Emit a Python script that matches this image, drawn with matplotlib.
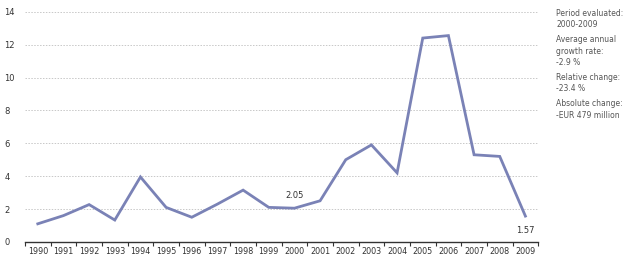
import matplotlib.pyplot as plt

years = [str(y) for y in range(1990, 2010)]
values = [1.1, 1.6, 2.27, 1.33, 3.95, 2.1, 1.5, 2.3, 3.15, 2.1,
          2.05, 2.5, 5.0, 5.9, 4.2, 12.4, 12.55, 5.3, 5.2, 1.57]
yticks = [0, 2, 4, 6, 8, 10, 12, 14]
notes = ["Period evaluated:", "2000-2009",
         "Average annual", "growth rate:", "-2.9 %",
         "Relative change:", "-23.4 %",
         "Absolute change:", "-EUR 479 million"]
note_gaps = [0, 0, 1, 0, 0, 1, 0, 1, 0]

line_color = "#7a82b6"
text_color = "#555555"

fig = plt.figure(figsize=(6.4, 2.67), dpi=100)
ax = fig.add_axes([0.039, 0.094, 0.802, 0.862])

x = list(range(len(years)))
ax.plot(x, values, color=line_color, linewidth=2.0, solid_joinstyle="miter")

ax.set_xlim(-0.5, len(years) - 0.5)
ax.set_ylim(0, 14)
ax.set_yticks(yticks)
ax.set_xticks(x)
ax.set_xticklabels(years, fontsize=5.8, color="#333333")
ax.set_xticks([i - 0.5 for i in range(len(years) + 1)], minor=True)
ax.tick_params(axis="x", which="major", length=0, pad=4)
ax.tick_params(axis="x", which="minor", length=3, width=0.8, color="#333333")
ax.tick_params(axis="y", length=0, labelsize=6, labelcolor="#333333", pad=15)
for lbl in ax.get_yticklabels():
    lbl.set_horizontalalignment("left")

ax.grid(axis="y", color="#c8c8c8", linestyle=(0, (1.5, 1.5)), linewidth=0.7)
ax.set_axisbelow(True)
for side in ["top", "right", "left"]:
    ax.spines[side].set_visible(False)
ax.spines["bottom"].set_color("#333333")
ax.spines["bottom"].set_linewidth(1.0)

ax.annotate("2.05", (10, values[10]), xytext=(0, 7), textcoords="offset points",
            ha="center", fontsize=6, color="#333333")
ax.annotate("1.57", (19, values[19]), xytext=(0, -12), textcoords="offset points",
            ha="center", fontsize=6, color="#333333")

ypos = 0.975
for txt, gap in zip(notes, note_gaps):
    ypos -= 0.042 + 0.015 * gap
    fig.text(0.869, ypos, txt, fontsize=5.5, color=text_color, va="bottom")

fig.savefig("out.png", dpi=100)
